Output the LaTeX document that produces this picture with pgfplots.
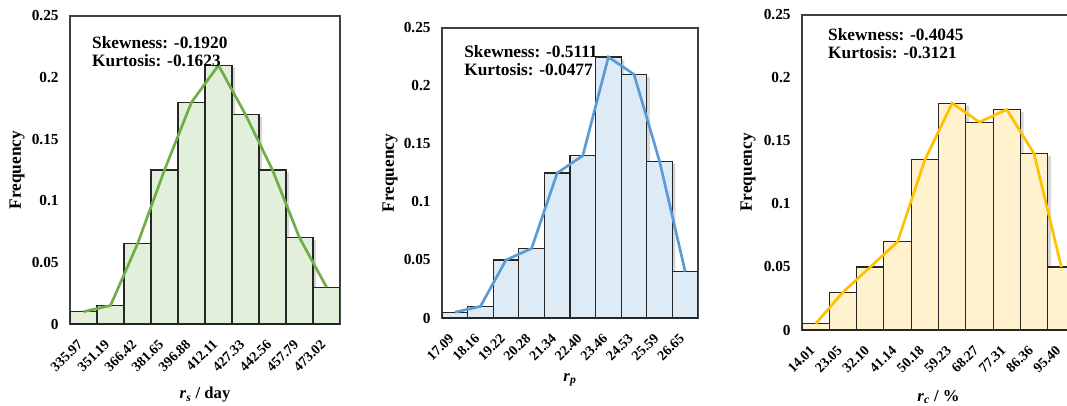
\documentclass[border=0pt]{standalone}
\usepackage{fontspec}
\setmainfont{Liberation Serif}
\usepackage{pgfplots}
\pgfplotsset{compat=1.18}
\definecolor{gline}{HTML}{70AD47}\definecolor{gfill}{HTML}{E2EFDA}
\definecolor{bline}{HTML}{5B9BD5}\definecolor{bfill}{HTML}{DDEBF7}
\definecolor{yline}{HTML}{FFC000}\definecolor{yfill}{HTML}{FFF2CC}
\pgfplotsset{
  hist/.style={
    scale only axis, anchor=south west,
    xmin=0, xmax=10, ymin=0, ymax=0.25,
    xtick={0.5,1.5,...,9.5},
    ytick={0,0.05,0.1,0.15,0.2,0.25},
    yticklabels={0,0.05,0.1,0.15,0.2,0.25},
    major tick length=0pt,
    axis line style={draw=black!75, line width=0.8pt},
    yticklabel style={font=\fontsize{11.5}{13}\selectfont\bfseries, xshift=-5pt},
    xticklabel style={font=\fontsize{10.5}{12}\selectfont\bfseries, xshift=0pt, yshift=-11pt, rotate=45, anchor=east},
    ylabel={Frequency},
    ylabel style={font=\fontsize{13}{14}\selectfont\bfseries, anchor=center},
    xlabel style={font=\fontsize{12.5}{14}\selectfont\bfseries, anchor=center},
  },
  bars/.style={ybar, bar width=1, draw=black!85, line width=0.8pt},
  shade/.style={ybar, bar width=1, bar shift=0.12, draw=none, fill=black, fill opacity=0.16},
}
\tikzset{stat/.style={anchor=west, align=left, inner sep=0pt, font=\fontsize{13}{13.5}\selectfont\bfseries}}
\begin{document}
\begin{tikzpicture}
\useasboundingbox (0pt,0pt) rectangle (800.25pt,303.75pt);
\clip (0pt,0pt) rectangle (800.25pt,303.75pt);
% Panel 1
\begin{axis}[hist, at={(52.5pt,60.75pt)}, width=202.5pt, height=231pt,
  xticklabels={335.97,351.19,366.42,381.65,396.88,412.11,427.33,442.56,457.79,473.02},
  xlabel={\textit{r}\textsubscript{\textit{s}} / day},
  xlabel style={at={(axis description cs:0.5,-0.2305)}},
  ylabel style={at={(axis description cs:-0.196,0.5)}}]
\addplot[shade] coordinates {(0.5,0.008) (1.5,0.013) (2.5,0.063) (3.5,0.123) (4.5,0.178) (5.5,0.208) (6.5,0.168) (7.5,0.123) (8.5,0.068) (9.5,0.028)};
\addplot[bars, fill=gfill] coordinates {(0.5,0.010) (1.5,0.015) (2.5,0.065) (3.5,0.125) (4.5,0.180) (5.5,0.210) (6.5,0.170) (7.5,0.125) (8.5,0.070) (9.5,0.030)};
\addplot[gline, line width=2pt, mark=none] coordinates {(0.5,0.010) (1.5,0.015) (2.5,0.065) (3.5,0.125) (4.5,0.180) (5.5,0.210) (6.5,0.170) (7.5,0.125) (8.5,0.070) (9.5,0.030)};
\node[stat] at (rel axis cs:0.081,0.883) {Skewness: -0.1920\\Kurtosis: -0.1623};
\end{axis}
% Panel 2
\begin{axis}[hist, at={(331.5pt,65.25pt)}, width=192pt, height=217.5pt,
  xticklabels={17.09,18.16,19.22,20.28,21.34,22.40,23.46,24.53,25.59,26.65},
  xlabel={\textit{r}\textsubscript{\textit{p}}},
  xlabel style={at={(axis description cs:0.5,-0.214)}},
  ylabel style={at={(axis description cs:-0.203,0.5)}}]
\addplot[shade] coordinates {(0.5,0.003) (1.5,0.008) (2.5,0.048) (3.5,0.058) (4.5,0.123) (5.5,0.138) (6.5,0.223) (7.5,0.208) (8.5,0.133) (9.5,0.038)};
\addplot[bars, fill=bfill] coordinates {(0.5,0.005) (1.5,0.010) (2.5,0.050) (3.5,0.060) (4.5,0.125) (5.5,0.140) (6.5,0.225) (7.5,0.210) (8.5,0.135) (9.5,0.040)};
\addplot[bline, line width=2pt, mark=none] coordinates {(0.5,0.005) (1.5,0.010) (2.5,0.050) (3.5,0.060) (4.5,0.125) (5.5,0.140) (6.5,0.225) (7.5,0.210) (8.5,0.135) (9.5,0.040)};
\node[stat] at (rel axis cs:0.086,0.888) {Skewness: -0.5111\\Kurtosis: -0.0477};
\end{axis}
% Panel 3
\begin{axis}[hist, at={(601.5pt,56.25pt)}, width=204.75pt, height=236.25pt,
  xticklabels={14.01,23.05,32.10,41.14,50.18,59.23,68.27,77.31,86.36,95.40},
  xlabel={\textit{r}\textsubscript{\textit{c}} / \%},
  xlabel style={at={(axis description cs:0.5,-0.213)}},
  ylabel style={at={(axis description cs:-0.198,0.5)}}]
\addplot[shade] coordinates {(0.5,0.003) (1.5,0.028) (2.5,0.048) (3.5,0.068) (4.5,0.133) (5.5,0.178) (6.5,0.163) (7.5,0.173) (8.5,0.138) (9.5,0.048)};
\addplot[bars, fill=yfill] coordinates {(0.5,0.005) (1.5,0.030) (2.5,0.050) (3.5,0.070) (4.5,0.135) (5.5,0.180) (6.5,0.165) (7.5,0.175) (8.5,0.140) (9.5,0.050)};
\addplot[yline, line width=2pt, mark=none] coordinates {(0.5,0.005) (1.5,0.030) (2.5,0.050) (3.5,0.070) (4.5,0.135) (5.5,0.180) (6.5,0.165) (7.5,0.175) (8.5,0.140) (9.5,0.050)};
\node[stat] at (rel axis cs:0.095,0.908) {Skewness: -0.4045\\Kurtosis: -0.3121};
\end{axis}
\end{tikzpicture}
\end{document}
